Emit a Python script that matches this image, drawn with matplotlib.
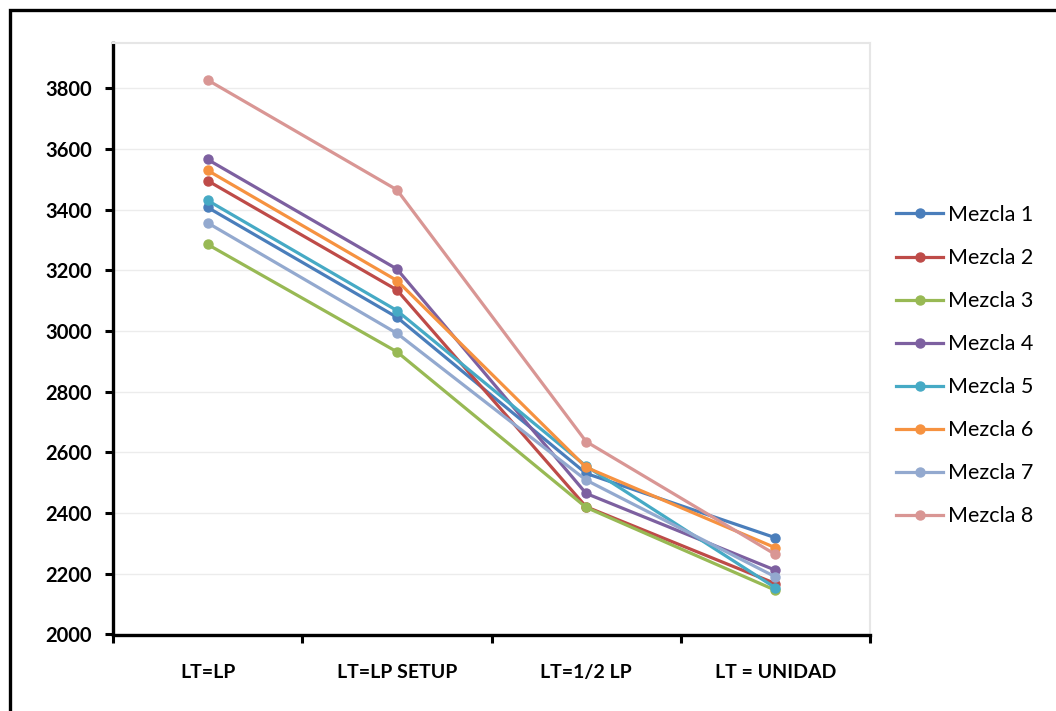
import matplotlib
matplotlib.use("Agg")
import matplotlib.pyplot as plt
from matplotlib.patches import Rectangle

categories = ["LT=LP", "LT=LP SETUP", "LT=1/2 LP", "LT = UNIDAD"]

mezcla_1 = [3408, 3046, 2531, 2319]
mezcla_2 = [3496, 3136, 2421, 2168]
mezcla_3 = [3286, 2932, 2419, 2146]
mezcla_4 = [3566, 3205, 2465, 2212]
mezcla_5 = [3431, 3068, 2555, 2154]
mezcla_6 = [3530, 3167, 2551, 2286]
mezcla_7 = [3357, 2993, 2509, 2190]
mezcla_8 = [3828, 3466, 2636, 2264]

series_names = ["Mezcla 1", "Mezcla 2", "Mezcla 3", "Mezcla 4",
                "Mezcla 5", "Mezcla 6", "Mezcla 7", "Mezcla 8"]
series_values = [mezcla_1, mezcla_2, mezcla_3, mezcla_4,
                 mezcla_5, mezcla_6, mezcla_7, mezcla_8]
colors = ["#4A7EBB", "#BE4B48", "#98B954", "#7D60A0",
          "#46AAC5", "#F69240", "#93A9CF", "#D99694"]

y_ticks = [2000, 2200, 2400, 2600, 2800, 3000, 3200, 3400, 3600, 3800]

plt.rcParams["font.family"] = ["Lato", "DejaVu Sans"]

fig = plt.figure(figsize=(10.56, 7.11), dpi=100)
ax = fig.add_axes([113 / 1056, 1 - 634.5 / 711, (870 - 113) / 1056, (634.5 - 43) / 711])

x = list(range(len(categories)))
for name, vals, col in zip(series_names, series_values, colors):
    ax.plot(x, vals, color=col, lw=2.3, marker="o", markersize=6.5,
            markeredgecolor=col, label=name, solid_joinstyle="round")

ax.set_xlim(-0.5, len(categories) - 0.5)
ax.set_ylim(2000, 3950)
ax.set_yticks(y_ticks)
ax.set_yticklabels([str(v) for v in y_ticks], fontsize=14.5, fontweight="bold")
ax.yaxis.grid(True, color="#ECECEC", lw=1)
ax.set_axisbelow(True)

# category labels between boundary ticks
ax.set_xticks([i - 0.5 for i in range(len(categories) + 1)])
ax.set_xticklabels([])
ax.set_xticks(x, minor=True)
ax.set_xticklabels(categories, minor=True, fontsize=14, fontweight="bold")
ax.tick_params(axis="x", which="minor", length=0, pad=21)
ax.tick_params(axis="x", which="major", length=6, width=2.2, color="black", direction="out")
ax.tick_params(axis="y", length=6, width=2.2, color="black", direction="out", pad=9)

for side in ("left", "bottom"):
    ax.spines[side].set_color("black")
    ax.spines[side].set_linewidth(2.4)
for side in ("top", "right"):
    ax.spines[side].set_color("#E6E6E6")
    ax.spines[side].set_linewidth(1.5)

leg = ax.legend(loc="upper left", bbox_to_anchor=(896 / 1056, 1 - 205 / 711),
                bbox_transform=fig.transFigure, frameon=False, fontsize=15.5,
                handlelength=2.2, handletextpad=0.2, labelspacing=1.07,
                borderaxespad=0, borderpad=0)

# outer chart frame
fig.patches.append(Rectangle((10 / 1056, -0.2), 1.5, 1.2 - 10 / 711,
                             transform=fig.transFigure, fill=False,
                             edgecolor="black", lw=2.4))

fig.savefig("out.png", dpi=100)
